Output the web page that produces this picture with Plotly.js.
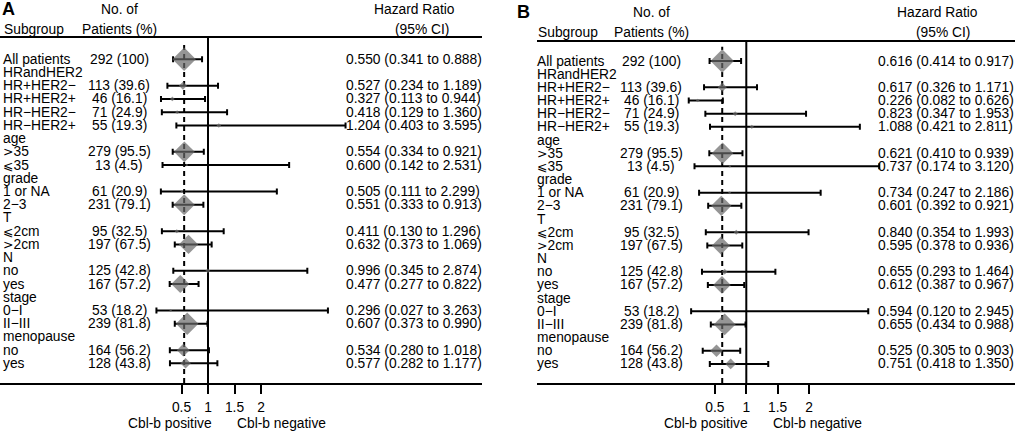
<!DOCTYPE html>
<html>
<head>
<meta charset="utf-8">
<script src="https://cdn.plot.ly/plotly-3.0.1.min.js"></script>
<style>html,body{margin:0;padding:0;background:#fff;}#chart{width:1017px;height:432px;}</style>
</head>
<body>
<div id="chart"></div>
<script>
// ---------------- data ----------------
const groupNames = ["", "HRandHER2", "HRandHER2", "HRandHER2", "HRandHER2", "age", "age", "grade", "grade", "T", "T", "N", "N", "stage", "stage", "menopause", "menopause"];
const subgroupLabels = ["All patients", "HR+HER2−", "HR+HER2+", "HR−HER2−", "HR−HER2+", ">35", "⩽35", "1 or NA", "2−3", "⩽2cm", ">2cm", "no", "yes", "0−I", "II−III", "no", "yes"];
const nPatients = [292, 113, 46, 71, 55, 279, 13, 61, 231, 95, 197, 125, 167, 53, 239, 164, 128];
const pctPatients = ["100", "39.6", "16.1", "24.9", "19.3", "95.5", "4.5", "20.9", "79.1", "32.5", "67.5", "42.8", "57.2", "18.2", "81.8", "56.2", "43.8"];

const hrA = [0.550, 0.527, 0.327, 0.418, 1.204, 0.554, 0.600, 0.505, 0.551, 0.411, 0.632, 0.996, 0.477, 0.296, 0.607, 0.534, 0.577];
const loA = [0.341, 0.234, 0.113, 0.129, 0.403, 0.334, 0.142, 0.111, 0.333, 0.130, 0.373, 0.345, 0.277, 0.027, 0.373, 0.280, 0.282];
const hiA = [0.888, 1.189, 0.944, 1.360, 3.595, 0.921, 2.531, 2.299, 0.913, 1.296, 1.069, 2.874, 0.822, 3.263, 0.990, 1.018, 1.177];

const hrB = [0.616, 0.617, 0.226, 0.823, 1.088, 0.621, 0.737, 0.734, 0.601, 0.840, 0.595, 0.655, 0.612, 0.594, 0.655, 0.525, 0.751];
const loB = [0.414, 0.326, 0.082, 0.347, 0.421, 0.410, 0.174, 0.247, 0.392, 0.354, 0.378, 0.293, 0.387, 0.120, 0.434, 0.305, 0.418];
const hiB = [0.917, 1.171, 0.626, 1.953, 2.811, 0.939, 3.120, 2.186, 0.921, 1.993, 0.936, 1.464, 0.967, 2.945, 0.988, 0.903, 1.350];

const tickVals = [0.5, 1, 1.5, 2];
const tickLabels = ["0.5", "1", "1.5", "2"];

// ---------------- layout helpers ----------------
const W = 1017, H = 432;
const px = x => x / W;
const py = y => 1 - y / H;
const FONT = "Liberation Sans, Arial, Helvetica, sans-serif";
const FS = 13.8;

// build table rows (headers inserted when group changes)
const subRow = [];
const headerRows = [];
let r = 0, prev = "";
for (let i = 0; i < subgroupLabels.length; i++) {
  if (groupNames[i] !== "" && groupNames[i] !== prev) {
    headerRows.push({ label: groupNames[i], row: r });
    r++;
  }
  prev = groupNames[i];
  subRow.push(r);
  r++;
}

// comparison symbols drawn in a wide math face, as in the reference
function symLabel(s) {
  const c = s.charAt(0);
  if (c === ">" || c === "⩽") {
    return '<span style="font-family:DejaVu Sans;font-size:12.5px">' + (c === ">" ? "&gt;" : c) + "</span>" + s.slice(1);
  }
  return s;
}

const panels = [
  { key: "", letter: "A", hr: hrA, lo: loA, hi: hiA,
    x0: 0, x1: 482, zero: 155, scale: 53, top: 38, bottom: 383, row0: 59.3, step: 13.22,
    letterX: 1, labelX: 2, countX: 119, hrX: 345, h1: 10, h2: 29, hazX: 414, ciX: 422, posX: 170, negX: 281 },
  { key: "2", letter: "B", hr: hrB, lo: loB, hi: hiB,
    x0: 537, x1: 1015, zero: 683.6, scale: 62.7, top: 41.7, bottom: 383, row0: 61, step: 13.17,
    letterX: 516, labelX: 536, countX: 651, hrX: 877, h1: 13, h2: 32, hazX: 937, ciX: 943, posX: 705.5, negX: 817 }
];

const data = [];
const annotations = [];
const shapes = [];
const layout = {
  width: W, height: H,
  margin: { l: 0, r: 0, t: 0, b: 0, pad: 0 },
  paper_bgcolor: "#fff", plot_bgcolor: "#fff",
  showlegend: false,
  font: { family: FONT, size: FS, color: "#000" }
};

function txt(text, x, y, xanchor, yref, extra) {
  annotations.push(Object.assign({
    text: text, x: x, y: y, xref: "paper", yref: yref || "paper",
    xanchor: xanchor, yanchor: "middle", showarrow: false, borderpad: 0,
    font: { family: FONT, size: FS, color: "#000" }
  }, extra || {}));
}

panels.forEach(p => {
  const xa = "xaxis" + p.key, ya = "yaxis" + p.key;
  const xr = "x" + p.key, yr = "y" + p.key;
  // weights from CI width -> marker size
  const w = p.lo.map((lo, i) => { const se = (Math.log(p.hi[i]) - Math.log(lo)) / 3.92; return 1 / (se * se); });
  const wmax = Math.max(...w);
  const sizes = w.map(v => Math.max(2, 18 * v / wmax));

  data.push({
    type: "scatter", mode: "markers", xaxis: xr, yaxis: yr,
    x: p.hr, y: subRow,
    marker: { symbol: "diamond", size: sizes, color: "#686868", line: { width: 0 } },
    error_x: { type: "data", symmetric: false,
      array: p.hi.map((h, i) => h - p.hr[i]),
      arrayminus: p.lo.map((l, i) => p.hr[i] - l),
      color: "#000", thickness: 2, width: 3 },
    hoverinfo: "skip", cliponaxis: false
  });

  layout[xa] = {
    domain: [px(p.x0), px(p.x1)],
    range: [(p.x0 - p.zero) / p.scale, (p.x1 - p.zero) / p.scale],
    anchor: yr,
    tickvals: tickVals, ticktext: tickLabels,
    ticks: "outside", ticklen: 9, tickwidth: 2, tickcolor: "#000",
    showline: true, linewidth: 2, linecolor: "#000", mirror: true,
    showgrid: false, zeroline: false,
    tickfont: { family: FONT, size: FS, color: "#000" },
    ticklabelstandoff: 1, fixedrange: true
  };
  layout[ya] = {
    domain: [py(p.bottom), py(p.top)],
    range: [(p.bottom - p.row0) / p.step, (p.top - p.row0) / p.step],
    anchor: xr, visible: false, showgrid: false, zeroline: false, fixedrange: true
  };

  // reference lines
  shapes.push({ type: "line", xref: xr, yref: "paper", x0: 1, x1: 1, y0: py(p.bottom), y1: py(p.top),
    line: { color: "#000", width: 2 }, layer: "below" });
  shapes.push({ type: "line", xref: xr, yref: "paper", x0: p.hr[0], x1: p.hr[0], y0: py(p.bottom), y1: py(p.top + 5),
    line: { color: "#000", width: 2, dash: "5px,4px" }, layer: "below" });

  // headers
  txt("<b>" + p.letter + "</b>", px(p.letterX), py(p.h1 - 1), "left", "paper", { font: { family: FONT, size: 18, color: "#000" } });
  txt("Subgroup", px(p.labelX + 1), py(p.h2), "left");
  txt("No. of", px(p.countX), py(p.h1), "center");
  txt("Patients (%)", px(p.countX), py(p.h2), "center");
  txt("Hazard Ratio", px(p.hazX), py(p.h1), "center");
  txt("(95% CI)", px(p.ciX), py(p.h2 + 1), "center");

  // rows
  headerRows.forEach(h => txt(h.label, px(p.labelX), h.row, "left", yr));
  subgroupLabels.forEach((lab, i) => {
    txt(symLabel(lab), px(p.labelX), subRow[i], "left", yr);
    txt(nPatients[i] + " (" + pctPatients[i] + ")", px(p.countX), subRow[i], "center", yr);
    txt(p.hr[i].toFixed(3) + " (" + p.lo[i].toFixed(3) + " to " + p.hi[i].toFixed(3) + ")", px(p.hrX), subRow[i], "left", yr);
  });

  // bottom captions
  txt("Cbl-b positive", px(p.posX), py(423), "center");
  txt("Cbl-b negative", px(p.negX), py(423), "center");
});

layout.annotations = annotations;
layout.shapes = shapes;

Plotly.newPlot("chart", data, layout, { staticPlot: true, displayModeBar: false });
</script>
</body>
</html>
